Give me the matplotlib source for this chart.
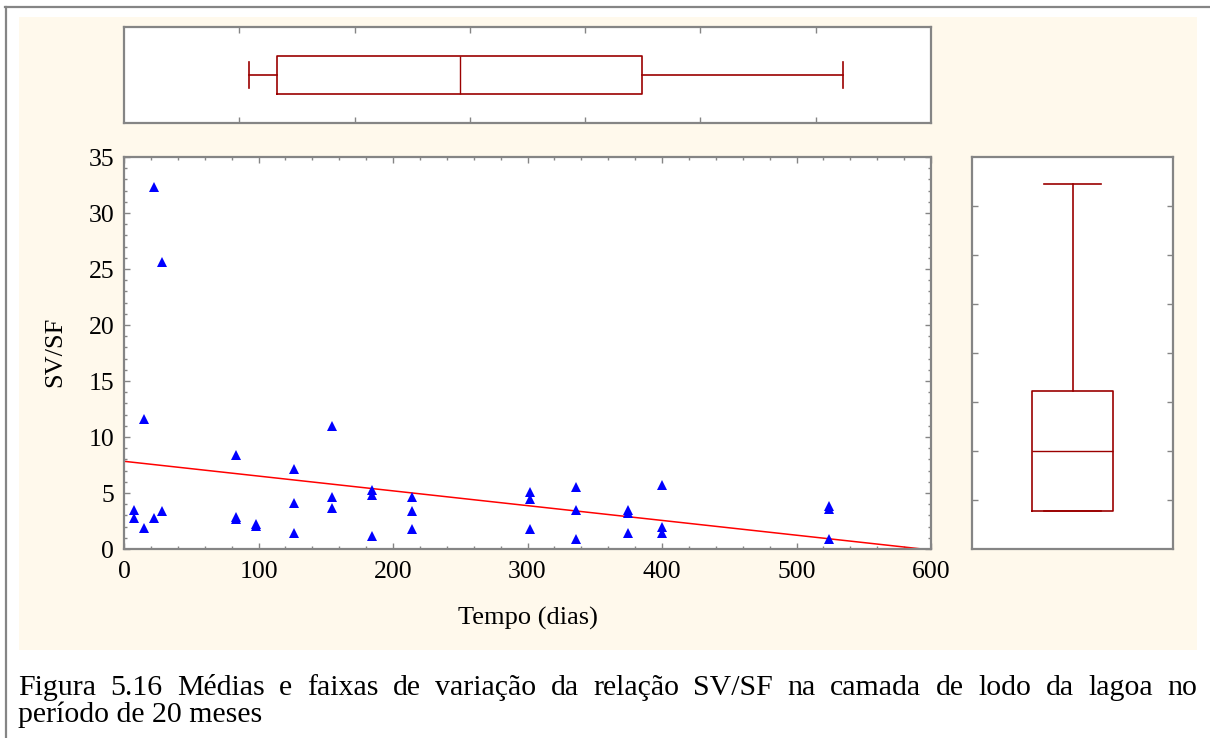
import numpy as np
import matplotlib
matplotlib.use("Agg")
import matplotlib.pyplot as plt
from matplotlib.patches import Rectangle
from matplotlib.lines import Line2D
from matplotlib.ticker import MultipleLocator, FixedLocator, NullFormatter

plt.rcParams['font.family'] = ['Liberation Serif', 'DejaVu Serif']

# Sampling day and SV/SF ratio of the sludge layer
tempo_dias = [7.4, 7.4, 14.9, 14.9, 22.5, 22.5, 28.5, 28.5,
              83.3, 83.3, 83.3, 98.4, 98.4,
              126.4, 126.4, 126.4, 154.6, 154.6, 154.6,
              184.6, 184.6, 184.6, 214.1, 214.1, 214.1,
              302.1, 302.1, 302.1, 336.3, 336.3, 336.3,
              375.0, 375.0, 375.0, 400.2, 400.2, 400.2,
              523.9, 523.9, 523.9]
sv_sf = [3.5, 2.8, 11.6, 1.9, 32.3, 2.8, 25.6, 3.4,
         8.4, 2.9, 2.7, 2.2, 2.05,
         7.1, 4.1, 1.4, 11.0, 4.6, 3.7,
         5.3, 4.8, 1.2, 4.6, 3.4, 1.76,
         5.1, 4.5, 1.76, 5.5, 3.5, 0.87,
         3.5, 3.25, 1.4, 5.7, 1.94, 1.4,
         3.84, 3.54, 0.87]

# Marginal box plot summaries: lower whisker, Q1, median, Q3, upper whisker
box_tempo = [92.7, 114.0, 249.8, 385.4, 534.6]
box_sv_sf = [3.4, 3.4, 8.75, 14.1, 32.6]

x_ticks = [0, 100, 200, 300, 400, 500, 600]
y_ticks = [0, 5, 10, 15, 20, 25, 30, 35]

x_label = "Tempo (dias)"
y_label = "SV/SF"
caption_1 = ("Figura 5.16 Médias e faixas de variação da relação SV/SF "
             "na camada de lodo da lagoa no")
caption_2 = "período de 20 meses"

W, H = 1210, 738
fig = plt.figure(figsize=(W / 100, H / 100), dpi=100, facecolor="white")

GRAY = "#858585"
CREAM = "#FFF9EC"
BOXRED = "#9B0000"
TICK_FS = 18.5
LABEL_FS = 19
CAP_FS = 21.5


def rect(x0, y0, x1, y1):
    return [x0 / W, 1 - y1 / H, (x1 - x0) / W, (y1 - y0) / H]


# page frame and shaded chart panel
fig.add_artist(Rectangle((19 / W, 1 - 650 / H), (1197 - 19) / W, (650 - 17) / H,
                         transform=fig.transFigure, facecolor=CREAM,
                         edgecolor="none", zorder=0))
fig.add_artist(Line2D([5 / W, 1.0], [1 - 7 / H, 1 - 7 / H],
                      transform=fig.transFigure, color=GRAY, lw=1.6))
fig.add_artist(Line2D([6 / W, 6 / W], [0, 1 - 7 / H],
                      transform=fig.transFigure, color=GRAY, lw=1.6))


def style_spines(ax):
    ax.set_facecolor("white")
    for s in ax.spines.values():
        s.set_color(GRAY)
        s.set_linewidth(1.6)


# main scatter
ax = fig.add_axes(rect(124, 157, 931, 549))
style_spines(ax)
ax.plot(tempo_dias, sv_sf, linestyle="none", marker="^", markersize=7.5,
        color="#0000FF", markeredgewidth=0, zorder=3)
coef = np.polyfit(tempo_dias, sv_sf, 1)
xfit = np.array([0.0, 600.0])
ax.plot(xfit, np.polyval(coef, xfit), color="#FF0000", lw=1.1, zorder=2)
ax.set_xlim(0, 600)
ax.set_ylim(0, 35)
ax.xaxis.set_major_locator(FixedLocator(x_ticks))
ax.yaxis.set_major_locator(FixedLocator(y_ticks))
ax.xaxis.set_minor_locator(MultipleLocator(20))
ax.yaxis.set_minor_locator(MultipleLocator(1))
ax.tick_params(which="both", direction="in", top=True, right=True,
               color=GRAY, width=1.0, labelsize=TICK_FS, labelcolor="black")
ax.tick_params(which="major", length=4.5)
ax.tick_params(which="minor", length=2.5)
ax.tick_params(axis="x", pad=9)
ax.tick_params(axis="y", pad=7)
fig.text(528 / W, 1 - 618 / H, x_label, fontsize=LABEL_FS,
         ha="center", va="center")
fig.text(55 / W, 1 - 352 / H, y_label, fontsize=LABEL_FS, rotation=90,
         ha="center", va="center")

box_style = dict(
    boxprops=dict(color=BOXRED, lw=1.2),
    whiskerprops=dict(color=BOXRED, lw=1.2),
    capprops=dict(color=BOXRED, lw=1.2),
    medianprops=dict(color=BOXRED, lw=1.0),
)


def stats(v):
    return [dict(whislo=v[0], q1=v[1], med=v[2], q3=v[3], whishi=v[4],
                 fliers=[])]


# marginal box plot of time
axt = fig.add_axes(rect(124, 27, 931, 123))
style_spines(axt)
axt.bxp(stats(box_tempo), positions=[0.5], widths=0.4, capwidths=0.28,
        orientation="horizontal", showfliers=False, **box_style)
axt.set_xlim(0, 600)
axt.set_ylim(0, 1)
axt.set_yticks([])
axt.xaxis.set_major_locator(FixedLocator(np.linspace(0, 600, 8)[1:-1]))
axt.xaxis.set_major_formatter(NullFormatter())
axt.tick_params(axis="x", direction="in", top=True, bottom=True,
                color=GRAY, width=1.0, length=4.5)

# marginal box plot of SV/SF
axr = fig.add_axes(rect(972, 157, 1173, 549))
style_spines(axr)
axr.bxp(stats(box_sv_sf), positions=[0.5], widths=0.4, capwidths=0.28,
        orientation="vertical", showfliers=False, **box_style)
axr.set_ylim(0, 35)
axr.set_xlim(0, 1)
axr.set_xticks([])
axr.yaxis.set_major_locator(FixedLocator(np.linspace(0, 35, 9)[1:-1]))
axr.yaxis.set_major_formatter(NullFormatter())
axr.tick_params(axis="y", direction="in", left=True, right=True,
                color=GRAY, width=1.0, length=4.5)

# caption, first line justified across the panel width
renderer = fig.canvas.get_renderer()
left_px, right_px = 18, 1197
words = caption_1.split()
texts = [fig.text(0, 1 - 695 / H, w, fontsize=CAP_FS, ha="left",
                  va="baseline") for w in words]
widths = [t.get_window_extent(renderer).width for t in texts]
gap = (right_px - left_px - sum(widths)) / (len(words) - 1)
xpos = left_px
for t, wd in zip(texts, widths):
    t.set_x(xpos / W)
    xpos += wd + gap
fig.text(left_px / W, 1 - 722 / H, caption_2, fontsize=CAP_FS, ha="left",
         va="baseline")

fig.savefig("out.png", dpi=100, facecolor="white")
